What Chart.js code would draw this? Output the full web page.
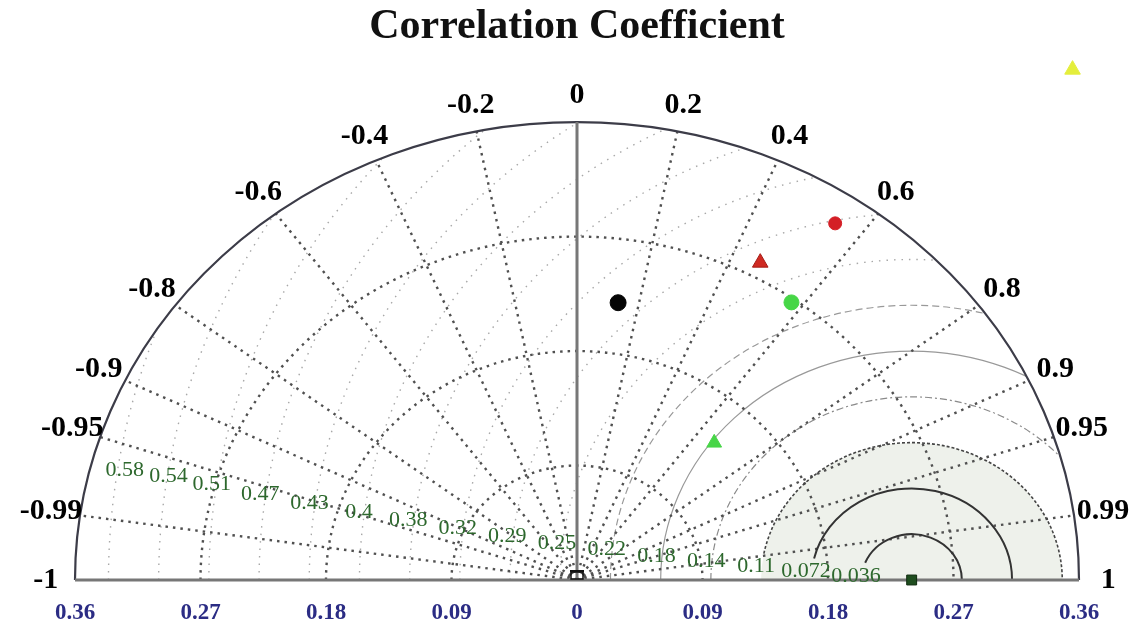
<!DOCTYPE html>
<html>
<head>
<meta charset="utf-8">
<script src="https://cdn.jsdelivr.net/npm/chart.js@4.4.1/dist/chart.umd.min.js"></script>
<style>
  html, body { margin: 0; padding: 0; background: #fff; }
</style>
</head>
<body>
<canvas id="taylor" width="1148" height="630"></canvas>
<script>
const MAX_STD = 0.36;
const REF_STD = 0.24;

// standard deviation axis
const xTickValues = [-0.36, -0.27, -0.18, -0.09, 0, 0.09, 0.18, 0.27, 0.36];
const stdArcs = [0.09, 0.18, 0.27];

// correlation rays and their labels
const corrValues = [-1, -0.99, -0.95, -0.9, -0.8, -0.6, -0.4, -0.2, 0, 0.2, 0.4, 0.6, 0.8, 0.9, 0.95, 0.99, 1];

// centred RMS difference contours around the reference
const rmsLevels = [0.036, 0.072, 0.108, 0.144, 0.18, 0.216, 0.252, 0.288, 0.324, 0.36, 0.396, 0.432, 0.468, 0.504, 0.54, 0.576];
const rmsLabels = ['0.036', '0.072', '0.11', '0.14', '0.18', '0.22', '0.25', '0.29', '0.32', '0.38', '0.4', '0.43', '0.47', '0.51', '0.54', '0.58'];

// models: std deviation and correlation with the reference
const models = ['ref', 'm1', 'm2', 'm3', 'm4', 'm5', 'm6'];
const stdDevs = [0.24, 0.536, 0.336, 0.282, 0.267, 0.146, 0.220];
const correlations = [1, 0.663, 0.551, 0.466, 0.576, 0.674, 0.134];

const markerStyles = [
  { pointStyle: 'rect', radius: 7, color: '#1e4d1e', border: '#0d2a0d' },
  { pointStyle: 'triangle', radius: 9, color: '#e4ee3c', border: '#e4ee3c' },
  { pointStyle: 'circle', radius: 6.5, color: '#d41f26', border: '#d41f26' },
  { pointStyle: 'triangle', radius: 9, color: '#cf2a22', border: '#a51a14' },
  { pointStyle: 'circle', radius: 7.5, color: '#46d646', border: '#46d646' },
  { pointStyle: 'triangle', radius: 8.5, color: '#48d548', border: '#48d548' },
  { pointStyle: 'circle', radius: 8, color: '#050505', border: '#050505' }
];

const rmsStyles = [
  { color: '#333', width: 2, dash: [] },
  { color: '#333', width: 2, dash: [] },
  { color: '#444', width: 1.6, dash: [3, 2] },
  { color: '#8a8a8a', width: 1.2, dash: [7, 3, 2, 3] },
  { color: '#999', width: 1.2, dash: [] },
  { color: '#999', width: 1.2, dash: [7, 4] },
  { color: '#a8a8a8', width: 1.4, dash: [1.5, 6] }
];

// where an rms label sits, in std space: just outside its contour,
// lifted off the axis more the further it is from the reference
const rmsLabelPos = r => {
  const d = r + 0.004 - Math.max(0, r - 0.5) * 0.12;
  const a = Math.min(8.7, 4.5 + 8 * r) * Math.PI / 180;
  return { x: REF_STD - d * Math.cos(a), y: d * Math.sin(a) };
};

const datasets = models.map((name, i) => {
  const s = stdDevs[i], c = correlations[i];
  const st = markerStyles[i];
  return {
    label: name,
    data: [{ x: s * c, y: s * Math.sqrt(1 - c * c) }],
    pointStyle: st.pointStyle,
    pointRadius: st.radius,
    backgroundColor: st.color,
    borderColor: st.border,
    borderWidth: 1,
    clip: false
  };
});

const taylorGrid = {
  id: 'taylorGrid',
  beforeDatasetsDraw(chart) {
    const { ctx, scales: { x, y } } = chart;
    const ox = x.getPixelForValue(0);
    const oy = y.getPixelForValue(0);
    const kx = x.getPixelForValue(1) - ox;
    const ky = oy - y.getPixelForValue(1);

    // circle arc in std space, centre (cx, 0), angles counter-clockwise
    const arc = (cx, r, a0, a1) => {
      ctx.beginPath();
      ctx.ellipse(x.getPixelForValue(cx), oy, r * kx, r * ky, 0, -a1, -a0);
    };
    const stroke = (color, width, dash) => {
      ctx.strokeStyle = color;
      ctx.lineWidth = width;
      ctx.setLineDash(dash);
      ctx.stroke();
    };

    ctx.save();
    ctx.beginPath();
    ctx.ellipse(ox, oy, MAX_STD * kx, MAX_STD * ky, 0, Math.PI, 2 * Math.PI);
    ctx.closePath();
    ctx.clip();

    // shaded zone around the reference
    arc(REF_STD, rmsLevels[2], 0, Math.PI);
    ctx.closePath();
    ctx.fillStyle = '#eef1eb';
    ctx.fill();

    // outer rms contours
    rmsLevels.forEach((r, i) => {
      if (i < 3) return;
      const st = rmsStyles[Math.min(i, rmsStyles.length - 1)];
      arc(REF_STD, r, 0, Math.PI);
      stroke(st.color, st.width, st.dash);
    });

    // std deviation arcs
    stdArcs.forEach(s => {
      arc(0, s, 0, Math.PI);
      stroke('#505050', 2.4, [2.5, 5]);
    });

    // correlation rays
    ctx.beginPath();
    corrValues.forEach(c => {
      if (Math.abs(c) === 1 || c === 0) return;
      const sn = Math.sqrt(1 - c * c);
      ctx.moveTo(ox, oy);
      ctx.lineTo(ox + MAX_STD * c * kx, oy - MAX_STD * sn * ky);
    });
    stroke('#505050', 2.4, [2.5, 5]);

    // inner rms contours, broken above their labels
    rmsLevels.slice(0, 3).forEach((r, i) => {
      const st = rmsStyles[i];
      const h = (rmsLabelPos(r).y + 13 / ky) / r;
      const end = Math.PI - Math.asin(Math.min(1, h));
      arc(REF_STD, r, 0, end);
      stroke(st.color, st.width, st.dash);
    });
    ctx.restore();

    ctx.save();
    ctx.setLineDash([]);
    // outer rim
    arc(0, MAX_STD, 0, Math.PI);
    stroke('#3c3c48', 2.2, []);
    // axes
    ctx.beginPath();
    ctx.moveTo(x.getPixelForValue(-MAX_STD), oy);
    ctx.lineTo(x.getPixelForValue(MAX_STD), oy);
    ctx.moveTo(ox, oy);
    ctx.lineTo(ox, oy - MAX_STD * ky);
    stroke('#777', 3, []);

    // origin mark
    ctx.strokeStyle = '#111';
    ctx.lineWidth = 1.5;
    ctx.strokeRect(ox - 6, oy - 8, 12, 7);
    ctx.fillStyle = '#111';
    ctx.fillRect(ox - 7, oy - 10, 14, 2);

    // correlation labels
    ctx.fillStyle = '#000';
    ctx.font = 'bold 30px "Liberation Serif"';
    ctx.textAlign = 'center';
    ctx.textBaseline = 'middle';
    const rl = 0.381;
    corrValues.forEach(c => {
      const sn = Math.sqrt(1 - c * c);
      ctx.fillText(String(c), ox + rl * c * kx, oy - rl * sn * ky);
    });

    // rms labels
    ctx.fillStyle = '#2d682d';
    ctx.font = '22px "Liberation Serif"';
    rmsLevels.forEach((r, i) => {
      const p = rmsLabelPos(r);
      ctx.fillText(rmsLabels[i], x.getPixelForValue(p.x), y.getPixelForValue(p.y));
    });
    ctx.restore();
  }
};

new Chart(document.getElementById('taylor'), {
  type: 'scatter',
  data: { datasets },
  options: {
    responsive: false,
    animation: false,
    devicePixelRatio: 1,
    layout: { padding: { left: 75, right: 69, top: 0, bottom: 0 } },
    scales: {
      x: {
        type: 'linear',
        min: -MAX_STD,
        max: MAX_STD,
        afterBuildTicks: s => { s.ticks = xTickValues.map(v => ({ value: v })); },
        afterFit: s => { s.height = 50; },
        grid: { display: false, drawTicks: false },
        border: { display: false },
        ticks: {
          color: '#2b2c84',
          padding: 19,
          maxRotation: 0,
          autoSkip: false,
          font: { family: 'Liberation Serif', size: 23, weight: 'bold' },
          callback: v => {
            const a = Math.abs(v);
            return a < 1e-9 ? '0' : String(+a.toFixed(2));
          }
        }
      },
      y: { display: false, min: 0, max: 0.42 }
    },
    plugins: {
      legend: { display: false },
      tooltip: { enabled: false },
      title: {
        display: true,
        text: 'Correlation Coefficient',
        color: '#111',
        font: { family: 'Liberation Serif', size: 42, weight: 'bold', lineHeight: 0.9 },
        padding: { top: 8, bottom: 0 }
      }
    }
  },
  plugins: [taylorGrid]
});
</script>
</body>
</html>
